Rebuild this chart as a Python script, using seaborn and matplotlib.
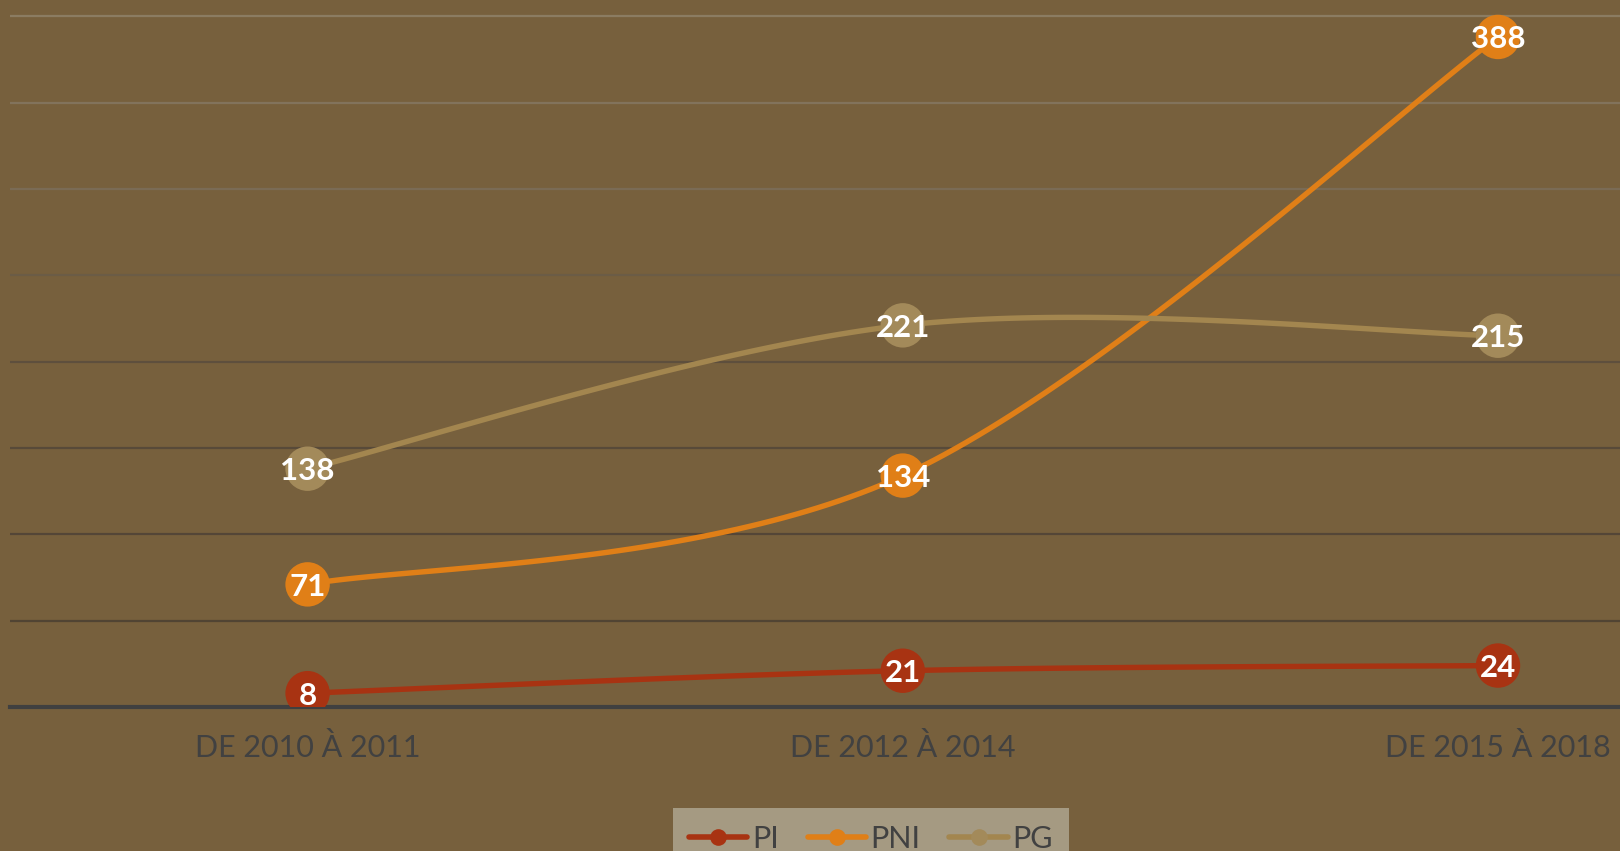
import numpy as np
import pandas as pd
import seaborn as sns
import matplotlib.pyplot as plt
from matplotlib.lines import Line2D

# ---- data ----
categories = ["DE 2010 À 2011", "DE 2012 À 2014", "DE 2015 À 2018"]
series_names = ["PI", "PNI", "PG"]
pi_values = [8, 21, 24]
pni_values = [71, 134, 388]
pg_values = [138, 221, 215]
y_ticks = [0, 50, 100, 150, 200, 250, 300, 350, 400]

# ---- style ----
BG = "#77603d"
colors = {"PI": "#a83312", "PNI": "#e07f17", "PG": "#a3864f"}
marker_colors = {"PI": "#a83312", "PNI": "#e07f17", "PG": "#a38a5a"}
TEXT = "#414141"
grid_colors = ["#514433", "#544637", "#584a39", "#5e4f3d", "#6b5c46",
               "#7a6b55", "#82735c", "#8b7c62"]

sns.set_style("white")
plt.rcParams["font.family"] = ["Lato", "DejaVu Sans"]

fig = plt.figure(figsize=(16.2, 8.51), dpi=100, facecolor=BG)
ax = fig.add_axes([10 / 1620, 1 - 707 / 851, 1 - 10 / 1620, 707 / 851])
ax.set_facecolor(BG)


def smooth(xs, ys, n=60):
    """Excel-like smoothed line (Catmull-Rom -> cubic Bezier)."""
    P = np.column_stack([xs, ys]).astype(float)
    m = len(P)
    out = []
    for i in range(m - 1):
        p0 = P[max(i - 1, 0)]
        p1 = P[i]
        p2 = P[i + 1]
        p3 = P[min(i + 2, m - 1)]
        c1 = p1 + (p2 - p0) / 6.0
        c2 = p2 - (p3 - p1) / 6.0
        t = np.linspace(0, 1, n)[:, None]
        seg = ((1 - t) ** 3) * p1 + 3 * ((1 - t) ** 2) * t * c1 + 3 * (1 - t) * t ** 2 * c2 + t ** 3 * p2
        out.append(seg if i == 0 else seg[1:])
    return np.vstack(out)


x_pos = np.arange(len(categories))
all_vals = {"PI": pi_values, "PNI": pni_values, "PG": pg_values}

# gridlines
for yv, gc in zip(y_ticks[1:], grid_colors):
    ax.axhline(yv, color=gc, linewidth=1.6, zorder=1)

# draw lines
for k, name in enumerate(series_names):
    vals = all_vals[name]
    curve = smooth(x_pos, vals)
    df = pd.DataFrame({"x": curve[:, 0], "y": curve[:, 1]})
    sns.lineplot(data=df, x="x", y="y", sort=False, ax=ax, color=colors[name],
                 linewidth=3.9, legend=False, zorder=3 + k)

for k, name in enumerate(series_names):
    vals = all_vals[name]
    pts = pd.DataFrame({"x": x_pos, "y": vals})
    sns.scatterplot(data=pts, x="x", y="y", ax=ax, color=marker_colors[name],
                    s=32 ** 2, edgecolor="none", linewidth=0, legend=False, zorder=10)
    for xi, v in zip(x_pos, vals):
        ax.text(xi, v, str(v), ha="center", va="center_baseline", color="white",
                fontsize=22.5, fontweight="bold", zorder=12)

ax.set_xlim(-0.5, 2.205)
ax.set_ylim(0, 409.4)
ax.set_xticks(x_pos)
ax.set_xticklabels(categories, fontsize=22, color=TEXT)
ax.set_yticks([])
ax.tick_params(axis="x", length=0, pad=19)
ax.set_xlabel("")
ax.set_ylabel("")
for s in ["top", "right", "left"]:
    ax.spines[s].set_visible(False)
ax.spines["bottom"].set_color("#404040")
ax.spines["bottom"].set_linewidth(3)
ax.spines["bottom"].set_zorder(2)

handles = [Line2D([0], [0], color=colors[n], linewidth=4, marker="o", markersize=12,
                  markerfacecolor=marker_colors[n], markeredgewidth=0) for n in series_names]
leg = fig.legend(handles, series_names, loc="upper center",
                 bbox_to_anchor=(871 / 1620, 1 - 808 / 851), ncol=3, frameon=True,
                 fancybox=False, facecolor="#a59a82", edgecolor="none", framealpha=1,
                 fontsize=22, handlelength=1.9, handletextpad=0.15, columnspacing=0.95,
                 borderpad=0.55, borderaxespad=0)
for t in leg.get_texts():
    t.set_color(TEXT)

fig.savefig("out.png", dpi=100, facecolor=BG)
